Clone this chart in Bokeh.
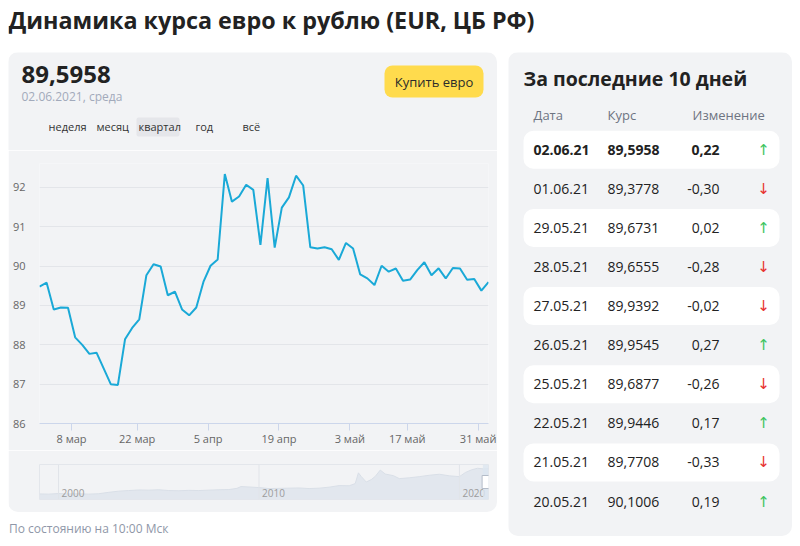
from bokeh.plotting import figure
from bokeh.layouts import column, row
from bokeh.models import Range1d, FixedTicker, Spacer
from bokeh.core.properties import value
from bokeh.embed import file_html
from bokeh.resources import INLINE

FONT = "Open Sans"
PANEL = "#f2f3f5"

# ---------------- data ----------------
title_text = "Динамика курса евро к рублю (EUR, ЦБ РФ)"
current_date = "02.06.2021, среда"
period_tabs = ["неделя", "месяц", "квартал", "год", "всё"]
active_tab = "квартал"

# EUR/RUB over the quarter (one point per CB rate date)
euro_rates = [89.48, 89.58, 88.90, 88.95, 88.94, 88.19, 88.00, 87.77, 87.80, 87.40,
              87.00, 86.98, 88.14, 88.43, 88.65, 89.77, 90.05, 89.99, 89.26, 89.35,
              88.90, 88.75, 88.95, 89.60, 90.01, 90.17, 92.34, 91.64, 91.77, 92.07,
              91.94, 90.54, 92.24, 90.47, 91.49, 91.75, 92.30, 92.05, 90.48, 90.45,
              90.48, 90.43, 90.16, 90.59, 90.45, 89.79, 89.69, 89.52, 90.01, 89.86,
              89.94, 89.63, 89.66, 89.90, 90.1006, 89.7708, 89.9446, 89.6877, 89.9545,
              89.9392, 89.6555, 89.6731, 89.3778, 89.5958]
x_tick_pos = [4.5, 13.7, 23.65, 33.6, 43.55, 51.6, 61.55]
x_tick_labels = ["8 мар", "22 мар", "5 апр", "19 апр", "3 май", "17 май", "31 май"]
y_ticks = [86, 87, 88, 89, 90, 91, 92]

# long-term history for the navigator
nav_years = [1999.05, 1999.5, 2000.0, 2000.5, 2001.0, 2001.5, 2002.0, 2002.5, 2003.0,
             2003.5, 2004.0, 2004.5, 2005.0, 2005.5, 2006.0, 2006.5, 2007.0, 2007.5,
             2008.0, 2008.5, 2008.9, 2009.1, 2009.5, 2010.0, 2010.5, 2011.0, 2011.5,
             2012.0, 2012.5, 2013.0, 2013.5, 2014.0, 2014.5, 2014.8, 2014.96, 2015.1,
             2015.35, 2015.6, 2015.8, 2016.05, 2016.3, 2016.7, 2017.0, 2017.5, 2018.0,
             2018.5, 2019.0, 2019.5, 2020.0, 2020.3, 2020.6, 2020.9, 2021.2, 2021.45]
nav_values = [26.0, 25.5, 27.0, 26.0, 26.5, 25.5, 26.5, 30.0, 33.0, 34.5, 36.0, 35.5,
              36.5, 34.5, 34.0, 35.0, 34.5, 35.5, 36.5, 37.0, 40.0, 44.5, 43.5, 42.0,
              39.5, 40.0, 40.5, 41.0, 39.5, 40.5, 43.0, 47.0, 46.5, 52.0, 79.0, 70.0,
              56.0, 62.0, 70.0, 86.0, 76.0, 72.0, 64.5, 66.5, 69.5, 73.0, 75.5, 71.5,
              69.5, 80.0, 86.5, 90.5, 89.0, 89.6]
year_marks = [2000, 2010, 2020]
selection = (2021.17, 2021.45)

# table of the last 10 days
table_dates = ["02.06.21", "01.06.21", "29.05.21", "28.05.21", "27.05.21",
               "26.05.21", "25.05.21", "22.05.21", "21.05.21", "20.05.21"]
table_rates = [89.5958, 89.3778, 89.6731, 89.6555, 89.9392,
               89.9545, 89.6877, 89.9446, 89.7708, 90.1006]
table_changes = [0.22, -0.30, 0.02, -0.28, -0.02, 0.27, -0.26, 0.17, -0.33, 0.19]
table_headers = ["Дата", "Курс", "Изменение"]

LEFT_W, FR_L, FR_R = 489, 31, 9   # left panel width and chart frame borders


def fmt(v, d):
    return f"{v:.{d}f}".replace(".", ",")


def canvas(w, h, bg, **kw):
    """Figure whose data units equal pixels (y downwards)."""
    p = figure(width=w, height=h, x_range=Range1d(0, w), y_range=Range1d(h, 0),
               output_backend="svg", toolbar_location=None, min_border=0,
               x_axis_location=None, y_axis_location=None, **kw)
    p.grid.visible = False
    p.outline_line_color = None
    p.background_fill_color = bg
    p.border_fill_color = bg
    return p


def txt(p, x, y, s, size, color="#222222", style="normal", align="left", font=FONT):
    p.text(x=[x], y=[y], text=[s], text_font=value(font), text_font_size=size,
           text_font_style=style, text_color=color, text_align=align,
           text_baseline="middle")


# ---------------- title ----------------
tfig = canvas(784, 48, "white")
txt(tfig, 0, 15, title_text, "23.3px", "#222222", "bold")

# ---------------- header of left panel ----------------
hdr = canvas(LEFT_W, 98, PANEL,
             styles={"border-radius": "10px 10px 0 0", "overflow": "hidden"})
txt(hdr, 13, 22, fmt(table_rates[0], 4), "24px", "#222222", "bold")
txt(hdr, 13, 43.5, current_date, "12px", "#a2aabb")
hdr.quad(left=[376], right=[475], top=[13], bottom=[45], fill_color="#ffdb4d",
         line_color=None, border_radius=8)
txt(hdr, 425.5, 29.5, "Купить евро", "13px", "#2b2b2b", align="center")
tab_x = [40, 88, 130, 187, 234]
ai = period_tabs.index(active_tab)
hdr.quad(left=[tab_x[ai] - 2], right=[tab_x[ai] + 41], top=[65], bottom=[84],
         fill_color="#e5e6ea", line_color=None, border_radius=2)
hdr.text(x=tab_x, y=[73.5] * len(period_tabs), text=period_tabs, text_font=value(FONT),
         text_font_size="11px", text_color="#333333", text_baseline="middle")

# ---------------- chart ----------------
ch = figure(width=LEFT_W, height=300, x_range=Range1d(0, len(euro_rates) - 1),
            y_range=Range1d(86, 92.61), output_backend="svg", toolbar_location=None,
            min_border_left=FR_L, min_border_right=FR_R, min_border_top=13,
            min_border_bottom=27)
ch.background_fill_color = PANEL
ch.border_fill_color = PANEL
ch.outline_line_color = None
ch.line(x=list(range(len(euro_rates))), y=euro_rates, line_color="#1aa9d7", line_width=2)
ch.xgrid.visible = False
ch.ygrid.grid_line_color = "#e3e5e9"
ch.xaxis.ticker = FixedTicker(ticks=x_tick_pos)
ch.xaxis.major_label_overrides = dict(zip(x_tick_pos, x_tick_labels))
ch.xaxis.axis_line_color = "#ccd6eb"
ch.xaxis.major_tick_line_color = "#ccd6eb"
ch.xaxis.major_tick_out = 7
ch.xaxis.major_tick_in = 0
ch.xaxis.minor_tick_line_color = None
ch.xaxis.major_label_standoff = 0
ch.yaxis.ticker = FixedTicker(ticks=y_ticks)
ch.yaxis.axis_line_color = None
ch.yaxis.major_tick_line_color = None
ch.yaxis.minor_tick_line_color = None
ch.yaxis.major_label_standoff = 8
for ax in (ch.xaxis, ch.yaxis):
    ax.major_label_text_font = FONT
    ax.major_label_text_font_size = "11px"
    ax.major_label_text_color = "#666666"

# ---------------- navigator ----------------
nv = figure(width=LEFT_W, height=62, x_range=Range1d(nav_years[0], nav_years[-1]),
            y_range=Range1d(12, 100), output_backend="svg", toolbar_location=None,
            x_axis_location=None, y_axis_location=None,
            min_border_left=FR_L, min_border_right=FR_R, min_border_top=14,
            min_border_bottom=13,
            styles={"border-radius": "0 0 10px 10px", "overflow": "hidden"})
nv.background_fill_color = PANEL
nv.border_fill_color = PANEL
nv.grid.visible = False
nv.outline_line_color = "#e3e6eb"
nv.varea(x=nav_years, y1=12, y2=nav_values, fill_color="#e2e7ee")
nv.line(x=nav_years, y=nav_values, line_color="#d9dfe7", line_width=1)
nv.segment(x0=year_marks, x1=year_marks, y0=12, y1=100, line_color="#e1e4e9", line_width=1)
nv.text(x=year_marks, y=[12] * 3, text=[str(y) for y in year_marks], x_offset=3, y_offset=-7,
        text_font=value(FONT), text_font_size="10px", text_color="#9c9c9c",
        text_baseline="middle")
nv.quad(left=[selection[0]], right=[selection[1]], bottom=[12], top=[100],
        fill_color="#dce6f0", fill_alpha=0.8, line_color=None)
nv.rect(x=[selection[1] - 0.12], y=[56], width=8, height=13, width_units="screen",
        height_units="screen", fill_color="white", line_color="#b4bcc8")

# ---------------- footer ----------------
ft = canvas(LEFT_W, 26, "white")
txt(ft, 0.5, 16, "По состоянию на 10:00 Мск", "12px", "#8f97a8")

# ---------------- right panel ----------------
rt = canvas(284, 484, PANEL, styles={"border-radius": "10px", "overflow": "hidden"})
txt(rt, 15, 26, "За последние 10 дней", "19.5px", "#222222", "bold")
rt.text(x=[25, 99, 184], y=[62.5] * 3, text=table_headers, text_font=value(FONT),
        text_font_size="13px", text_color="#6e7482", text_baseline="middle")
row0, pitch = 97.3, 39.08
for i, (d, r, c) in enumerate(zip(table_dates, table_rates, table_changes)):
    yc = row0 + i * pitch
    if i % 2 == 0:
        rt.quad(left=[15], right=[271], top=[yc - 19], bottom=[yc + 19],
                fill_color="white", line_color=None, border_radius=10)
    st = "bold" if i == 0 else "normal"
    txt(rt, 25, yc, d, "14px", "#222222", st)
    txt(rt, 99, yc, fmt(r, 4), "14px", "#222222", st)
    txt(rt, 211, yc, fmt(c, 2), "14px", "#222222", st, align="right")
    txt(rt, 255, yc, "↑" if c > 0 else "↓", "15px",
        "#3cc45e" if c > 0 else "#e8322f", align="center", font="DejaVu Sans")

# wrapping header/footer in their own rows keeps their frames independent of the chart's
left = column(row(hdr), ch, nv, row(ft), spacing=0)
body = row(left, rt, spacing=11)
inner = column(tfig, body, spacing=0)
page = column(Spacer(height=4), row(Spacer(width=8), inner))

open("out.html", "w").write(file_html(page, INLINE))
